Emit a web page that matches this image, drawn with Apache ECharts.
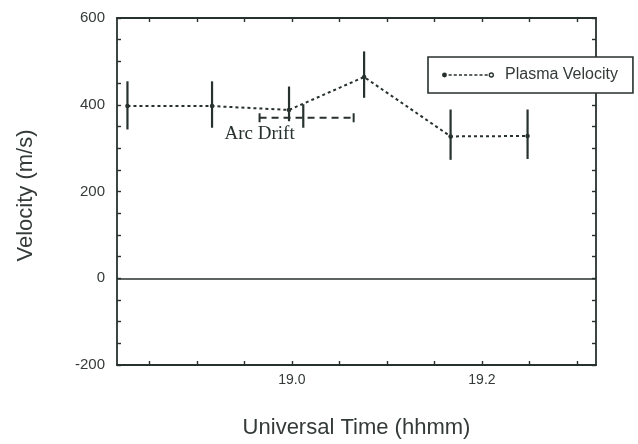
<!DOCTYPE html>
<html>
<head>
<meta charset="utf-8">
<script src="https://cdn.jsdelivr.net/npm/echarts@6/dist/echarts.min.js"></script>
<style>
  html, body { margin: 0; padding: 0; background: #fff; }
  #chart { width: 638px; height: 444px; }
</style>
</head>
<body>
<div id="chart"></div>
<script>
// Plasma velocity (UT in decimal hours, velocity in m/s)
const timeUT       = [18.827, 18.916, 18.997, 19.076, 19.167, 19.248];
const velocity     = [397, 397, 388, 464, 327, 328];
const velocityLow  = [343, 347, 362, 416, 273, 275];
const velocityHigh = [454, 454, 442, 523, 389, 389];

// Arc drift estimate with its time span and velocity range
const arcTime         = [19.012];
const arcVelocity     = [370];
const arcTimeStart    = [18.966];
const arcTimeEnd      = [19.065];
const arcVelocityLow  = [347];
const arcVelocityHigh = [401];
const arcLabel = 'Arc Drift';

// Axis ticks and labels
const xTickValues  = [18.85, 18.90, 18.95, 19.00, 19.05, 19.10, 19.15, 19.20, 19.25, 19.30];
const xLabelValues = [19.0, 19.2];
const yLabelValues = [-200, 0, 200, 400, 600];

const ink = '#27312d';
const textInk = '#333a37';
const sans = '"Liberation Sans", Arial, Helvetica, sans-serif';
const serif = '"Liberation Serif", "Times New Roman", serif';

const xRange = { min: 18.816, max: 19.32 };
const yRange = { min: -200, max: 600, interval: 50 };

// Legend sample: filled dot, dotted line, open circle
const legendIcon = 'path://' +
  'M0.6 3a2.4 2.4 0 1 0 4.8 0a2.4 2.4 0 1 0 -4.8 0Z' +
  'M7 2.3h3v1.4h-3Z M12 2.3h3v1.4h-3Z M17 2.3h3v1.4h-3Z M22 2.3h3v1.4h-3Z' +
  'M27 2.3h3v1.4h-3Z M32 2.3h3v1.4h-3Z M37 2.3h3v1.4h-3Z M42 2.3h3v1.4h-3Z' +
  'M45.9 3a2.6 2.6 0 1 0 5.2 0a2.6 2.6 0 1 0 -5.2 0Z' +
  'M47.2 3a1.3 1.3 0 1 1 2.6 0a1.3 1.3 0 1 1 -2.6 0Z';

const frameAxisX = (pos, labels) => ({
  type: 'value', position: pos, min: xRange.min, max: xRange.max,
  axisLine: { show: true, onZero: false, lineStyle: { color: ink, width: 1.8 } },
  axisTick: { show: true, inside: true, length: 4, customValues: xTickValues,
              lineStyle: { color: ink, width: 1.4 } },
  axisLabel: labels
    ? { show: true, customValues: xLabelValues, formatter: v => v.toFixed(1),
        color: textInk, fontFamily: sans, fontSize: 14, margin: 8 }
    : { show: false },
  splitLine: { show: false }
});

const frameAxisY = (pos, labels) => ({
  type: 'value', position: pos, min: yRange.min, max: yRange.max, interval: yRange.interval,
  axisLine: { show: true, onZero: false, lineStyle: { color: ink, width: 1.8 } },
  axisTick: { show: true, inside: true, length: 4, lineStyle: { color: ink, width: 1.4 } },
  axisLabel: labels
    ? { show: true, formatter: v => (yLabelValues.indexOf(v) >= 0 ? String(v) : ''),
        color: textInk, fontFamily: sans, fontSize: 15, margin: 12 }
    : { show: false },
  splitLine: { show: false }
});

const xBottom = frameAxisX('bottom', true);
xBottom.name = 'Universal Time (hhmm)';
xBottom.nameLocation = 'middle';
xBottom.nameGap = 52;
xBottom.nameTextStyle = { color: textInk, fontFamily: sans, fontSize: 22 };

const yLeft = frameAxisY('left', true);
yLeft.name = 'Velocity (m/s)';
yLeft.nameLocation = 'middle';
yLeft.nameRotate = 90;
yLeft.nameGap = 80;
yLeft.nameTextStyle = { color: textInk, fontFamily: sans, fontSize: 22, padding: [0, 8, 0, 0] };

const chart = echarts.init(document.getElementById('chart'), null, { renderer: 'canvas' });

chart.setOption({
  animation: false,
  backgroundColor: '#fff',
  grid: { left: 117, top: 18, right: 42, bottom: 77 },
  xAxis: [xBottom, frameAxisX('top', false)],
  yAxis: [yLeft, frameAxisY('right', false)],
  legend: {
    data: [{ name: 'Plasma Velocity', icon: legendIcon }],
    left: 428, top: 57,
    padding: [10, 15, 10, 14],
    backgroundColor: '#fff',
    borderColor: ink, borderWidth: 1.6, borderRadius: 0,
    itemWidth: 52, itemHeight: 6, itemGap: 0,
    itemStyle: { borderWidth: 0, color: ink },
    textStyle: { color: textInk, fontFamily: sans, fontSize: 16, padding: [0, 0, 0, 6] },
    selectedMode: false
  },
  series: [
    {
      type: 'line',
      name: 'Plasma Velocity',
      data: timeUT.map((t, i) => [t, velocity[i]]),
      symbol: 'circle',
      symbolSize: 4.5,
      itemStyle: { color: ink },
      lineStyle: { color: ink, width: 2, type: [3, 3] },
      z: 3,
      markLine: {
        silent: true,
        symbol: 'none',
        label: { show: false },
        lineStyle: { color: ink, type: 'solid', width: 1.7 },
        data: [{ yAxis: 0 }]
      }
    },
    {
      // vertical error bars on the plasma velocity
      type: 'custom',
      name: 'velocity range',
      data: timeUT.map((t, i) => [t, velocityLow[i], velocityHigh[i]]),
      encode: { x: 0, y: [1, 2] },
      renderItem(params, api) {
        const lo = api.coord([api.value(0), api.value(1)]);
        const hi = api.coord([api.value(0), api.value(2)]);
        return {
          type: 'line',
          shape: { x1: lo[0], y1: lo[1], x2: hi[0], y2: hi[1] },
          style: { stroke: ink, lineWidth: 2.2 }
        };
      },
      z: 2
    },
    {
      // arc drift: dashed time span with end caps, velocity range bar and label
      type: 'custom',
      name: 'arc drift',
      data: arcTime.map((t, i) => [t, arcVelocity[i], arcTimeStart[i], arcTimeEnd[i],
                                   arcVelocityLow[i], arcVelocityHigh[i]]),
      encode: { x: [0, 2, 3], y: [1, 4, 5] },
      renderItem(params, api) {
        const v = api.value(1);
        const left = api.coord([api.value(2), v]);
        const right = api.coord([api.value(3), v]);
        const lo = api.coord([api.value(0), api.value(4)]);
        const hi = api.coord([api.value(0), api.value(5)]);
        const cap = 4.5;
        return {
          type: 'group',
          children: [
            { type: 'line', shape: { x1: left[0], y1: left[1], x2: right[0], y2: right[1] },
              style: { stroke: ink, lineWidth: 2.2, lineDash: [7, 5] } },
            { type: 'line', shape: { x1: left[0], y1: left[1] - cap, x2: left[0], y2: left[1] + cap },
              style: { stroke: ink, lineWidth: 2 } },
            { type: 'line', shape: { x1: right[0], y1: right[1] - cap, x2: right[0], y2: right[1] + cap },
              style: { stroke: ink, lineWidth: 2 } },
            { type: 'line', shape: { x1: lo[0], y1: lo[1], x2: hi[0], y2: hi[1] },
              style: { stroke: ink, lineWidth: 2.2 } },
            { type: 'text', x: left[0] - 35, y: left[1] + 16,
              style: { text: arcLabel, fill: ink, font: '19px ' + serif,
                       textAlign: 'left', textVerticalAlign: 'middle' } }
          ]
        };
      },
      z: 2
    }
  ]
});
</script>
</body>
</html>
